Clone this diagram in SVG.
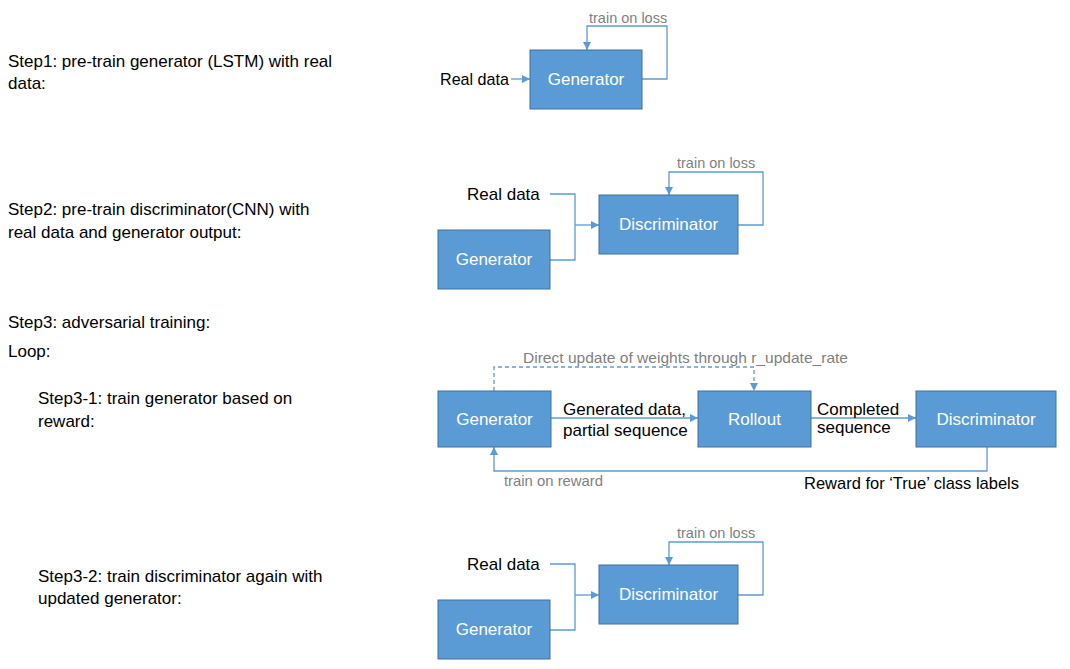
<svg xmlns="http://www.w3.org/2000/svg" width="1070" height="669" viewBox="0 0 1070 669">
<style>
text{font-family:"Liberation Sans",Arial,sans-serif}
.t{font-size:17px;fill:#000}
.g{font-size:14.5px;fill:#7f7f7f}
.n{font-size:17px;fill:#fff;text-anchor:middle}
.box{fill:#5b9bd5;stroke:#41719c;stroke-width:1}
.c{fill:none;stroke:#5b9bd5;stroke-width:1.3}
.d{stroke-dasharray:4 3}
</style>
<defs>
<marker id="ah" viewBox="0 0 10 10" refX="10" refY="5" markerWidth="8" markerHeight="8" markerUnits="userSpaceOnUse" orient="auto">
<path d="M0,0 L10,5 L0,10 z" fill="#5b9bd5"/>
</marker>
</defs>
<rect width="1070" height="669" fill="#fff"/>
<g id="left-text">
<text class="t" x="8" y="67">Step1: pre-train generator (LSTM) with real</text>
<text class="t" x="8" y="89">data:</text>
<text class="t" x="8" y="215">Step2: pre-train discriminator(CNN) with</text>
<text class="t" x="8" y="238">real data and generator output:</text>
<text class="t" x="8" y="328">Step3: adversarial training:</text>
<text class="t" x="8" y="357">Loop:</text>
<text class="t" x="38" y="404">Step3-1: train generator based on</text>
<text class="t" x="38" y="427">reward:</text>
<text class="t" x="38" y="582">Step3-2: train discriminator again with</text>
<text class="t" x="38" y="604">updated generator:</text>
</g>
<g id="connectors">
<line class="c" x1="511" y1="79" x2="530" y2="79" marker-end="url(#ah)"/>
<polyline class="c" points="642,79 667,79 667,26 587,26 587,50" marker-end="url(#ah)"/>
<polyline class="c" points="550,194 575,194 575,260 550,260"/>
<line class="c" x1="575" y1="225" x2="599" y2="225" marker-end="url(#ah)"/>
<polyline class="c" points="738,225 763,225 763,172 669,172 669,195" marker-end="url(#ah)"/>
<polyline class="c d" points="494,391 494,367 754,367 754,391" marker-end="url(#ah)"/>
<line class="c" x1="551" y1="418" x2="698" y2="418" marker-end="url(#ah)"/>
<line class="c" x1="811" y1="418" x2="916" y2="418" marker-end="url(#ah)"/>
<polyline class="c" points="987,447 987,471 494,471 494,447" marker-end="url(#ah)"/>
<polyline class="c" points="550,564 575,564 575,630 550,630"/>
<line class="c" x1="575" y1="595" x2="599" y2="595" marker-end="url(#ah)"/>
<polyline class="c" points="738,595 763,595 763,542 669,542 669,565" marker-end="url(#ah)"/>
</g>
<g id="labels">
<text class="t" x="440" y="85" textLength="69" lengthAdjust="spacingAndGlyphs">Real data</text>
<text class="g" x="589" y="23">train on loss</text>
<text class="t" x="467" y="200">Real data</text>
<text class="g" x="677" y="168">train on loss</text>
<text class="g" x="523" y="363" textLength="325" lengthAdjust="spacingAndGlyphs">Direct update of weights through r_update_rate</text>
<text class="t" x="563" y="415">Generated data,</text>
<text class="t" x="563" y="436">partial sequence</text>
<text class="t" x="817" y="415">Completed</text>
<text class="t" x="817" y="433">sequence</text>
<text class="g" x="504" y="486" textLength="99" lengthAdjust="spacingAndGlyphs">train on reward</text>
<text class="t" x="804" y="489" textLength="215" lengthAdjust="spacingAndGlyphs">Reward for ‘True’ class labels</text>
<text class="t" x="467" y="570">Real data</text>
<text class="g" x="677" y="538">train on loss</text>
</g>
<g id="s1-generator"><rect class="box" x="530" y="50" width="112" height="59"/><text class="n" x="586" y="85">Generator</text></g>
<g id="s2-discriminator"><rect class="box" x="599" y="195" width="139" height="59"/><text class="n" x="668.5" y="230">Discriminator</text></g>
<g id="s2-generator"><rect class="box" x="438" y="230" width="112" height="59"/><text class="n" x="494" y="265">Generator</text></g>
<g id="s31-generator"><rect class="box" x="438" y="391" width="113" height="56"/><text class="n" x="494.5" y="425">Generator</text></g>
<g id="s31-rollout"><rect class="box" x="698" y="391" width="113" height="56"/><text class="n" x="754.5" y="425">Rollout</text></g>
<g id="s31-discriminator"><rect class="box" x="916" y="391" width="140" height="56"/><text class="n" x="986" y="425">Discriminator</text></g>
<g id="s32-discriminator"><rect class="box" x="599" y="565" width="139" height="59"/><text class="n" x="668.5" y="600">Discriminator</text></g>
<g id="s32-generator"><rect class="box" x="438" y="600" width="112" height="59"/><text class="n" x="494" y="635">Generator</text></g>
</svg>
